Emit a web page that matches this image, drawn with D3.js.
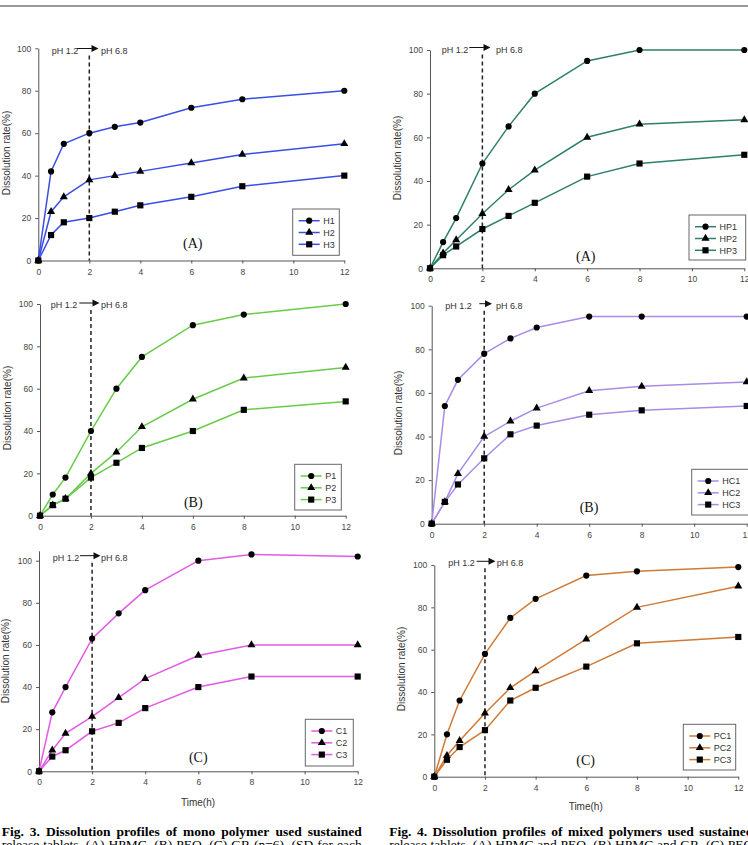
<!DOCTYPE html>
<html>
<head>
<meta charset="utf-8">
<script src="https://cdn.jsdelivr.net/npm/d3@7"></script>
<style>
  body { margin: 0; background: #fff; }
  svg text { font-family: "Liberation Sans", Arial, sans-serif; }
</style>
</head>
<body>
<div id="container"></div>
<script>
// Sampling times (h)
var times = [0, 0.5, 1, 2, 3, 4, 6, 8, 12];
var xTicks = [0, 2, 4, 6, 8, 10, 12];
var yTicks = [0, 20, 40, 60, 80, 100];

// Fig. 3 (A) HPMC
var h1 = [0, 42, 55, 60, 63, 65, 72, 76, 80];
var h2 = [0, 23, 30, 38, 40, 42, 46, 50, 55];
var h3 = [0, 12, 18, 20, 23, 26, 30, 35, 40];
// Fig. 3 (B) PEO
var p1 = [0, 10, 18, 40, 60, 75, 90, 95, 100];
var p2 = [0, 5, 8, 20, 30, 42, 55, 65, 70];
var p3 = [0, 5, 8, 18, 25, 32, 40, 50, 54];
// Fig. 3 (C) GR
var c1 = [0, 28, 40, 63, 75, 86, 100, 103, 102];
var c2 = [0, 10, 18, 26, 35, 44, 55, 60, 60];
var c3 = [0, 7, 10, 19, 23, 30, 40, 45, 45];

// Fig. 4 (A) HPMC + PEO
var hp1 = [0, 12, 23, 48, 65, 80, 95, 100, 100];
var hp2 = [0, 7, 13, 25, 36, 45, 60, 66, 68];
var hp3 = [0, 6, 10, 18, 24, 30, 42, 48, 52];
// Fig. 4 (B) HPMC + GR
var hc1 = [0, 54, 66, 78, 85, 90, 95, 95, 95];
var hc2 = [0, 10, 23, 40, 47, 53, 61, 63, 65];
var hc3 = [0, 10, 18, 30, 41, 45, 50, 52, 54];
// Fig. 4 (C) PEO + GR
var pc1 = [0, 20, 36, 58, 75, 84, 95, 97, 99];
var pc2 = [0, 10, 17, 30, 42, 50, 65, 80, 90];
var pc3 = [0, 8, 14, 22, 36, 42, 52, 63, 66];

var caption3 = ["Fig. 3. Dissolution profiles of mono polymer used sustained",
                "release tablets. (A) HPMC, (B) PEO, (C) GR (n=6). (SD for each"];
var caption4 = ["Fig. 4. Dissolution profiles of mixed polymers used sustained",
                "release tablets. (A) HPMC and PEO, (B) HPMC and GR, (C) PEO"];

var svg_width = 748, svg_height = 845;

var svg = d3.select("#container")
    .append("svg")
    .attr("width", svg_width)
    .attr("height", svg_height);

// page rule at the top
svg.append("line")
    .attr("x1", 0).attr("x2", svg_width)
    .attr("y1", 6).attr("y2", 6)
    .attr("stroke", "#999").attr("stroke-width", 2);

var symbols = [d3.symbolCircle, d3.symbolTriangle, d3.symbolSquare];
var symbolSizes = [30, 28, 38];

// layout of each panel (pixel box, legend box, label spots)
var panels = [
  {names: ["H1", "H2", "H3"], data: [h1, h2, h3], color: "#3a4de6", tag: "(A)",
   box: [38.3, 344.3, 260.5, 48.3], ymax: 100, legend: [292.7, 209, 46.6, 46.3],
   tagAt: [192.7, 248], ph: [51.7, 50.5, 77, 98.5, 101], yLab: [6, 153]},
  {names: ["HP1", "HP2", "HP3"], data: [hp1, hp2, hp3], color: "#2f7f6b", tag: "(A)",
   box: [430, 744.3, 268.3, 50], ymax: 100, legend: [689, 215, 56.7, 45],
   tagAt: [585.7, 260.5], ph: [441.7, 49.5, 469.3, 490.5, 496], yLab: [397, 158]},
  {names: ["P1", "P2", "P3"], data: [p1, p2, p3], color: "#6acb4a", tag: "(B)",
   box: [40, 345.7, 515.7, 304], ymax: 100, legend: [294.7, 464.3, 46.6, 45.7],
   tagAt: [193.3, 506.5], ph: [50.7, 305, 79.3, 99.5, 101], yLab: [7, 408]},
  {names: ["HC1", "HC2", "HC3"], data: [hc1, hc2, hc3], color: "#a88ce8", tag: "(B)",
   box: [431.7, 746.7, 523.7, 305.7], ymax: 100, legend: [691.7, 469.3, 60, 45.7],
   tagAt: [589, 512], ph: [445.3, 305.7, 479.3, 492, 496], yLab: [398.5, 413]},
  {names: ["C1", "C2", "C3"], data: [c1, c2, c3], color: "#e25ae6", tag: "(C)",
   box: [39, 357.7, 771.3, 560.7], ymax: 104.7, legend: [305.3, 719.3, 48, 46.7],
   tagAt: [198.3, 762], ph: [52.7, 557.7, 80, 100.5, 101], yLab: [5, 661],
   xLab: [198, 806]},
  {names: ["PC1", "PC2", "PC3"], data: [pc1, pc2, pc3], color: "#d17a35", tag: "(C)",
   box: [434.3, 738.3, 776.7, 565], ymax: 100, legend: [683.3, 724.3, 52.4, 45.7],
   tagAt: [585.7, 765], ph: [448.3, 563.3, 476.7, 495.5, 496.7], yLab: [401, 669],
   xLab: [585.7, 810]}
];

panels.forEach(drawPanel);

function drawPanel(p) {
    var x = d3.scaleLinear().domain([0, 12]).range([p.box[0], p.box[1]]);
    var yRangeTop = p.box[2] - (p.box[2] - p.box[3]) * p.ymax / 100;
    var y = d3.scaleLinear().domain([0, p.ymax]).range([p.box[2], yRangeTop]);

    var g = svg.append("g");

    // axes
    var xAxis = g.append("g")
        .attr("transform", "translate(0," + p.box[2] + ")")
        .call(d3.axisBottom(x).tickValues(xTicks).tickSize(3).tickPadding(5).tickSizeOuter(0));
    var yAxis = g.append("g")
        .attr("transform", "translate(" + p.box[0] + ",0)")
        .call(d3.axisLeft(y).tickValues(yTicks).tickSize(3).tickPadding(4).tickSizeOuter(0));
    [xAxis, yAxis].forEach(function(a){
        a.select(".domain").attr("stroke", "#555");
        a.selectAll(".tick line").attr("stroke", "#555");
        a.selectAll(".tick text")
            .attr("fill", "#444")
            .style("font-size", "8.5px")
            .style("font-family", "'Liberation Sans', Arial, sans-serif");
    });

    // axis titles
    g.append("text")
        .attr("transform", "translate(" + (p.yLab[0] + 3.5) + "," + p.yLab[1] + ") rotate(-90)")
        .attr("text-anchor", "middle")
        .attr("fill", "#333")
        .style("font-size", "10px")
        .text("Dissolution rate(%)");
    if (p.xLab) {
        g.append("text")
            .attr("x", p.xLab[0]).attr("y", p.xLab[1])
            .attr("text-anchor", "middle")
            .attr("fill", "#333")
            .style("font-size", "10px")
            .text("Time(h)");
    }

    // pH change marker
    var phY = p.ph[1];
    g.append("line")
        .attr("x1", x(2)).attr("x2", x(2))
        .attr("y1", phY + 5).attr("y2", p.box[2])
        .attr("stroke", "#222").attr("stroke-width", 1.5)
        .attr("stroke-dasharray", "4,3");
    g.append("text")
        .attr("x", p.ph[0]).attr("y", phY + 3)
        .attr("fill", "#333").style("font-size", "9px")
        .text("pH 1.2");
    g.append("line")
        .attr("x1", p.ph[2]).attr("x2", p.ph[3] - 6)
        .attr("y1", phY - 2).attr("y2", phY - 2)
        .attr("stroke", "#111").attr("stroke-width", 1);
    g.append("path")
        .attr("d", "M" + (p.ph[3] - 7) + "," + (phY - 5.5) + "L" + p.ph[3] + "," + (phY - 2) +
                   "L" + (p.ph[3] - 7) + "," + (phY + 1.5) + "Z")
        .attr("fill", "#111");
    g.append("text")
        .attr("x", p.ph[4]).attr("y", phY + 3)
        .attr("fill", "#333").style("font-size", "9px")
        .text("pH 6.8");

    // series lines + markers
    var line = d3.line()
        .x(function(d, i){ return x(times[i]); })
        .y(function(d){ return y(d); });

    p.data.forEach(function(vals, s){
        g.append("path")
            .datum(vals)
            .attr("d", line)
            .attr("fill", "none")
            .attr("stroke", p.color)
            .attr("stroke-width", 1.5);
        g.selectAll(null)
            .data(vals)
            .enter()
            .append("path")
            .attr("transform", function(d, i){ return "translate(" + x(times[i]) + "," + y(d) + ")"; })
            .attr("d", d3.symbol().type(symbols[s]).size(symbolSizes[s]))
            .attr("fill", "#000");
    });

    // legend
    var L = p.legend;
    g.append("rect")
        .attr("x", L[0]).attr("y", L[1])
        .attr("width", L[2]).attr("height", L[3])
        .attr("fill", "#fff").attr("stroke", "#666").attr("stroke-width", 1);
    p.names.forEach(function(name, s){
        var ry = L[1] + 11.7 + s * 11.8;
        g.append("line")
            .attr("x1", L[0] + 6).attr("x2", L[0] + 27)
            .attr("y1", ry).attr("y2", ry)
            .attr("stroke", p.color).attr("stroke-width", 1.5);
        g.append("path")
            .attr("transform", "translate(" + (L[0] + 16.5) + "," + ry + ")")
            .attr("d", d3.symbol().type(symbols[s]).size(symbolSizes[s]))
            .attr("fill", "#000");
        g.append("text")
            .attr("x", L[0] + 30.5).attr("y", ry + 3.3)
            .attr("fill", "#333").style("font-size", "9px")
            .text(name);
    });

    // panel tag
    g.append("text")
        .attr("x", p.tagAt[0]).attr("y", p.tagAt[1])
        .attr("text-anchor", "middle")
        .attr("fill", "#111")
        .style("font-family", "'Liberation Serif', 'Times New Roman', serif")
        .style("font-size", "14px")
        .text(p.tag);
}

// justified caption lines (Times, bold first line)
function justifyLine(str, x0, width, yBase, bold) {
    var words = str.split(" ");
    var tmp = [];
    var total = 0;
    words.forEach(function(w){
        var t = svg.append("text")
            .attr("y", yBase)
            .attr("fill", "#000")
            .style("font-family", "'Liberation Serif', 'Times New Roman', serif")
            .style("font-size", "13.5px")
            .style("font-weight", bold ? "bold" : "normal")
            .text(w);
        var wd = t.node().getComputedTextLength();
        total += wd;
        tmp.push([t, wd]);
    });
    var gap = (width - total) / (words.length - 1);
    var cx = x0;
    tmp.forEach(function(o){
        o[0].attr("x", cx);
        cx += o[1] + gap;
    });
}

justifyLine(caption3[0], 1.7, 360, 835.5, true);
justifyLine(caption3[1], 1.7, 360, 849, false);
justifyLine(caption4[0], 389.3, 364, 835.5, true);
justifyLine(caption4[1], 389.3, 364, 849, false);
</script>
</body>
</html>
